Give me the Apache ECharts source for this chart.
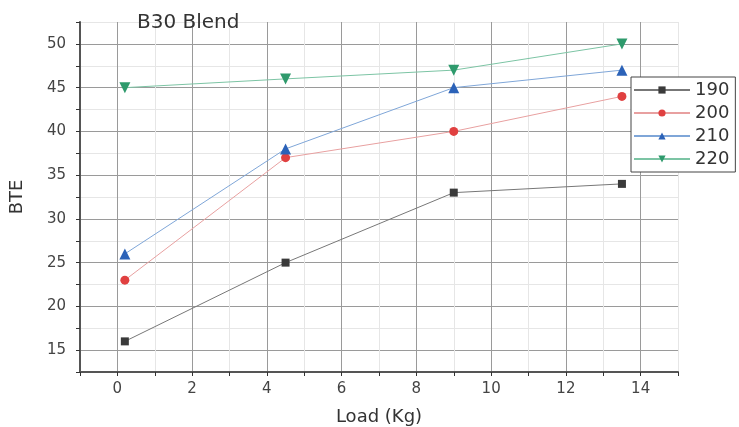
<!DOCTYPE html>
<html><head><meta charset="utf-8">
<script src="https://cdn.jsdelivr.net/npm/echarts@6/dist/echarts.min.js"></script>
<style>html,body{margin:0;padding:0;background:#fff}#c{width:739px;height:427px}</style>
</head><body><div id="c"></div>
<script>
const loads = [0.2, 4.5, 9, 13.5];
const s190 = [16, 25, 33, 34];
const s200 = [23, 37, 40, 44];
const s210 = [26, 38, 45, 47];
const s220 = [45, 46, 47, 50];
const seriesNames = ['190', '200', '210', '220'];
const titleText = 'B30 Blend';
const xName = 'Load (Kg)';
const yName = 'BTE';

const F = 'DejaVu Sans';
const chart = echarts.init(document.getElementById('c'));
const mk = (name, vals, color, lineColor, symbol, size) => ({
  name, type: 'line', data: loads.map((x, i) => [x, vals[i]]),
  symbol, symbolSize: size, itemStyle: { color },
  lineStyle: { color: lineColor, width: 1 }, z: 3
});
chart.setOption({
  animation: false,
  title: { text: titleText, left: 132, top: 8, textStyle: { fontFamily: F, fontSize: 20, fontWeight: 'normal', color: '#333' } },
  legend: {
    left: 631, top: 77, orient: 'vertical', itemGap: 5, itemWidth: 56, itemHeight: 9,
    padding: [4, 6, 4, 2], borderColor: '#444', borderWidth: 1, backgroundColor: '#fff',
    textStyle: { fontFamily: F, fontSize: 18, lineHeight: 18, color: '#333' },
    data: seriesNames
  },
  grid: { left: 80, top: 22, right: 61, bottom: 55, outerBoundsMode: 'none', containLabel: false },
  xAxis: {
    type: 'value', min: -1, max: 15, interval: 1,
    name: xName, nameLocation: 'middle', nameGap: 36,
    nameTextStyle: { fontFamily: F, fontSize: 18, color: '#333' },
    axisLine: { lineStyle: { color: '#555', width: 2 } },
    axisTick: { show: true, length: 4, inside: false, lineStyle: { color: '#333' } },
    axisLabel: { fontFamily: F, fontSize: 15, color: '#444', margin: 10,
      formatter: v => (Math.round(v) % 2 === 0 ? String(v) : '') },
    splitLine: { show: true, lineStyle: { color: ['#e6e6e6', '#9a9a9a'], width: 1 } }
  },
  yAxis: {
    type: 'value', min: 12.5, max: 52.5, interval: 2.5,
    name: yName, nameLocation: 'middle', nameGap: 54,
    nameTextStyle: { fontFamily: F, fontSize: 18, color: '#333' },
    axisLine: { show: true, onZero: false, lineStyle: { color: '#555', width: 2 } },
    axisTick: { show: true, length: 4, lineStyle: { color: '#333' } },
    axisLabel: { fontFamily: F, fontSize: 15, color: '#444', margin: 14,
      formatter: v => (v % 5 === 0 ? String(v) : '') },
    splitLine: { show: true, lineStyle: { color: ['#e6e6e6', '#9a9a9a'], width: 1 } }
  },
  series: [
    mk('190', s190, '#3a3a3a', '#777', 'rect', 8),
    mk('200', s200, '#e04040', '#e8a0a0', 'circle', 9),
    mk('210', s210, '#2b62b8', '#7fa6d8', 'triangle', 11),
    mk('220', s220, '#2e9a6c', '#7cc4a4', 'path://M0,0 L10,0 L5,9 Z', 11)
  ]
});
</script></body></html>
